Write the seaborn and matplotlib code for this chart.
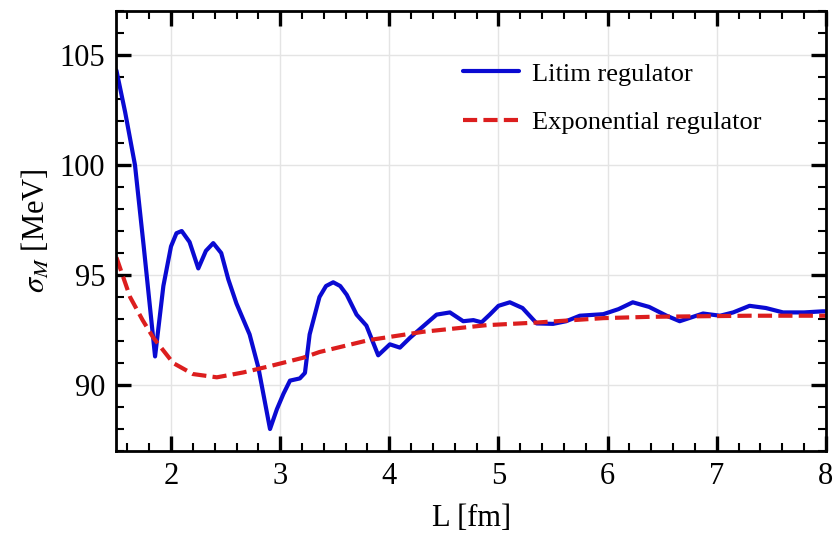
import numpy as np
import pandas as pd
import matplotlib
matplotlib.use("Agg")
import matplotlib.pyplot as plt
from matplotlib.ticker import MultipleLocator
import seaborn as sns

# Litim regulator: sigma_M vs box size L
L_litim = [1.50, 1.58, 1.67, 1.75, 1.854, 1.93, 2.00, 2.05, 2.098, 2.17, 2.25, 2.32, 2.387,
           2.46, 2.525, 2.60, 2.66, 2.72, 2.80, 2.907, 2.97, 3.03, 3.09, 3.18, 3.227,
           3.27, 3.36, 3.42, 3.486, 3.55, 3.61, 3.70, 3.79, 3.898, 4.005, 4.097, 4.19,
           4.34, 4.433, 4.555, 4.677, 4.77, 4.845, 4.92, 5.00, 5.104, 5.22, 5.35, 5.50,
           5.62, 5.745, 5.96, 6.10, 6.23, 6.38, 6.54, 6.66, 6.874, 7.03, 7.15, 7.30,
           7.45, 7.607, 7.80, 7.97, 8.00]
sigma_litim = [104.3, 102.4, 100.0, 96.3, 91.3, 94.5, 96.3, 96.9, 97.0, 96.5, 95.3, 96.1, 96.45,
               96.0, 94.8, 93.7, 93.0, 92.3, 90.8, 88.0, 88.9, 89.6, 90.2, 90.3, 90.55,
               92.3, 94.0, 94.5, 94.67, 94.5, 94.1, 93.2, 92.7, 91.35, 91.85, 91.7, 92.15,
               92.8, 93.2, 93.3, 92.9, 92.95, 92.85, 93.2, 93.6, 93.76, 93.5, 92.8, 92.78,
               92.9, 93.15, 93.22, 93.45, 93.76, 93.55, 93.15, 92.9, 93.25, 93.15, 93.3, 93.6,
               93.5, 93.3, 93.3, 93.35, 93.35]

# Exponential regulator
L_exp = [1.50, 1.625, 1.74, 1.838, 2.02, 2.20, 2.42, 2.66, 2.907, 3.21, 3.36, 3.81,
         4.31, 4.89, 5.35, 5.96, 6.386, 7.30, 8.00]
sigma_exp = [95.8, 94.0, 92.95, 92.15, 91.0, 90.5, 90.35, 90.57, 90.86, 91.24, 91.5, 92.04,
             92.42, 92.72, 92.84, 93.04, 93.1, 93.15, 93.15]

df = pd.concat([
    pd.DataFrame({"L": L_litim, "sigma": sigma_litim, "reg": "Litim regulator"}),
    pd.DataFrame({"L": L_exp, "sigma": sigma_exp, "reg": "Exponential regulator"}),
])

sns.set_style("ticks")
plt.rcParams["font.family"] = ["Liberation Serif", "DejaVu Serif"]
plt.rcParams["mathtext.fontset"] = "stix"
plt.rcParams["text.color"] = "black"
plt.rcParams["axes.labelcolor"] = "black"
plt.rcParams["xtick.color"] = "black"
plt.rcParams["ytick.color"] = "black"

fig = plt.figure(figsize=(8.4, 5.37), dpi=100)
ax = fig.add_axes([0.1386, 0.1601, 0.8447, 0.8194])

palette = {"Litim regulator": "#0a0ad2", "Exponential regulator": "#dc1e1e"}
sns.lineplot(data=df, x="L", y="sigma", hue="reg", style="reg",
             dashes={"Litim regulator": "", "Exponential regulator": (3.4, 1.5)},
             palette=palette, linewidth=3.0, sort=False, estimator=None, ax=ax)

ax.set_xlim(1.5, 8)
ax.set_ylim(87, 107)
ax.xaxis.set_major_locator(MultipleLocator(1))
ax.xaxis.set_minor_locator(MultipleLocator(0.2))
ax.yaxis.set_major_locator(MultipleLocator(5))
ax.yaxis.set_minor_locator(MultipleLocator(1))
ax.grid(True, which="major", color="#e4e4e4", linewidth=1.0)
ax.set_axisbelow(True)

for s in ax.spines.values():
    s.set_visible(True)
    s.set_linewidth(2.0)
    s.set_color("black")
ax.tick_params(which="major", direction="in", length=11, width=2.4,
               top=True, right=True, labelsize=22, pad=8, colors="black")
ax.tick_params(which="minor", direction="in", length=6, width=1.5,
               top=True, right=True, colors="black")

ax.set_xlabel("L [fm]", fontsize=22, labelpad=9)
ax.set_ylabel(r"$\sigma_M$ [MeV]", fontsize=22, labelpad=6)

leg = ax.legend(loc="upper left", bbox_to_anchor=(0.489, 0.884), frameon=False,
                borderpad=0, borderaxespad=0,
                fontsize=19, handlelength=2.1, handletextpad=0.5, labelspacing=0.95)

fig.savefig("out.png", dpi=100)
